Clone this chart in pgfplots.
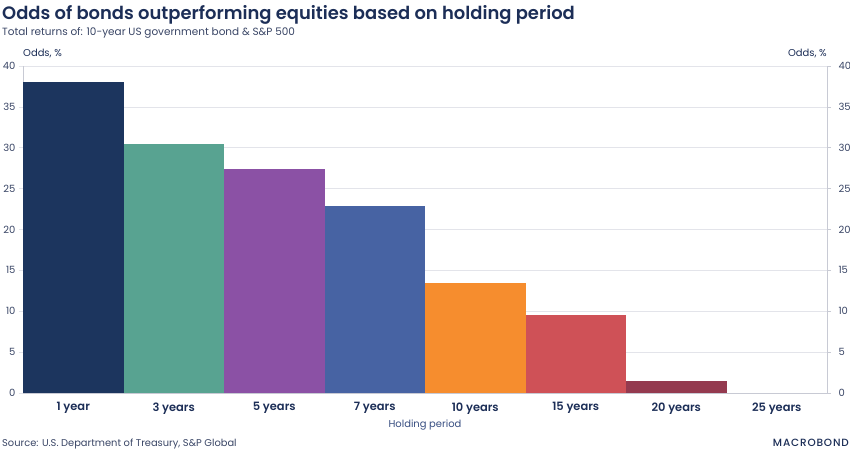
\documentclass[border=0pt]{standalone}
\usepackage{pgfplots}
\pgfplotsset{compat=1.18}
\usepackage{fontspec}
\setmainfont{Poppins}
\newfontfamily\poppinsb{Poppins}[UprightFont=* SemiBold]
\newfontfamily\poppinsm{Poppins}[UprightFont=* Medium, LetterSpace=8]
\definecolor{navy}{HTML}{1C2E57}
\definecolor{txt}{HTML}{3A4666}
\definecolor{gridc}{HTML}{E3E4EA}
\definecolor{axc}{HTML}{C8CAD4}
\definecolor{c1}{HTML}{1C355E}
\definecolor{c2}{HTML}{58A391}
\definecolor{c3}{HTML}{8B51A5}
\definecolor{c4}{HTML}{4763A3}
\definecolor{c5}{HTML}{F68D2E}
\definecolor{c6}{HTML}{CF5157}
\definecolor{c7}{HTML}{943A4F}
\begin{document}
\begin{tikzpicture}[x=1bp,y=1bp]
\useasboundingbox[fill=white] (0,0) rectangle (850,453);
\begin{axis}[
  at={(23bp,60bp)}, anchor=south west,
  scale only axis, width=804bp, height=327bp,
  xmin=0, xmax=8, ymin=0, ymax=40,
  axis y line*=left, axis x line*=bottom,
  axis line style={axc, line width=0.6pt},
  every outer y axis line/.append style={-}, every outer x axis line/.append style={-},
  ytick={0,5,...,40},
  ymajorgrids, grid style={gridc, line width=0.6pt},
  major tick length=4bp, tick align=outside,
  ytick style={gridc, line width=0.6pt},
  yticklabel style={font=\fontsize{10}{11}\selectfont, text=txt, xshift=0bp},
  /pgf/number format/assume math mode=true,
  xtick={0.5,1.5,...,7.5},
  xticklabels={1 year,3 years,5 years,7 years,10 years,15 years,20 years,25 years},
  xticklabel style={font=\poppinsb\fontsize{11.5}{13}\selectfont, text=navy, yshift=-2bp},
  xtick style={draw=none},
  minor xtick={0,1,...,8},
  minor tick length=3.5bp,
  minor x tick style={axc, line width=0.6pt},
  clip=false,
]
\addplot[ybar, bar width=1, bar shift=0, fill=c1, draw=none] coordinates {(0.5,38)};
\addplot[ybar, bar width=1, bar shift=0, fill=c2, draw=none] coordinates {(1.5,30.4)};
\addplot[ybar, bar width=1, bar shift=0, fill=c3, draw=none] coordinates {(2.5,27.4)};
\addplot[ybar, bar width=1, bar shift=0, fill=c4, draw=none] coordinates {(3.5,22.9)};
\addplot[ybar, bar width=1, bar shift=0, fill=c5, draw=none] coordinates {(4.5,13.5)};
\addplot[ybar, bar width=1, bar shift=0, fill=c6, draw=none] coordinates {(5.5,9.6)};
\addplot[ybar, bar width=1, bar shift=0, fill=c7, draw=none] coordinates {(6.5,1.5)};
\end{axis}
\begin{axis}[
  at={(23bp,60bp)}, anchor=south west,
  scale only axis, width=804bp, height=327bp,
  xmin=0, xmax=8, ymin=0, ymax=40,
  axis y line*=right, axis x line=none,
  axis line style={axc, line width=0.6pt},
  every outer y axis line/.append style={-},
  ytick={0,5,...,40},
  major tick length=4bp, tick align=outside,
  ytick style={axc, line width=0.6pt},
  yticklabel style={font=\fontsize{10}{11}\selectfont, text=txt, xshift=4bp},
  /pgf/number format/assume math mode=true,
]
\addplot[draw=none] coordinates {(0,0)};
\end{axis}
\node[anchor=base west, inner sep=0, text=navy] at (2,433) {\poppinsb\fontsize{18}{20}\selectfont Odds of bonds outperforming equities based on holding period};
\node[anchor=base west, inner sep=0, text=txt] at (2,417.5) {\fontsize{10.5}{12}\selectfont Total returns of: 10-year US government bond \& S\&P 500};
\node[anchor=base west, inner sep=0, text=navy] at (23,396) {\fontsize{10}{11}\selectfont Odds, \%};
\node[anchor=base east, inner sep=0, text=navy] at (827,396) {\fontsize{10}{11}\selectfont Odds, \%};
\node[anchor=base, inner sep=0, text=c4!80!black] at (425,25) {\fontsize{10}{11}\selectfont Holding period};
\node[anchor=base west, inner sep=0, text=txt] at (2,6.5) {\fontsize{9.9}{11}\selectfont Source: U.S. Department of Treasury, S\&P Global};
\node[anchor=base east, inner sep=0, text=navy] at (849,6.5) {\poppinsm\fontsize{10.5}{12}\selectfont MACROBOND};
\end{tikzpicture}
\end{document}
